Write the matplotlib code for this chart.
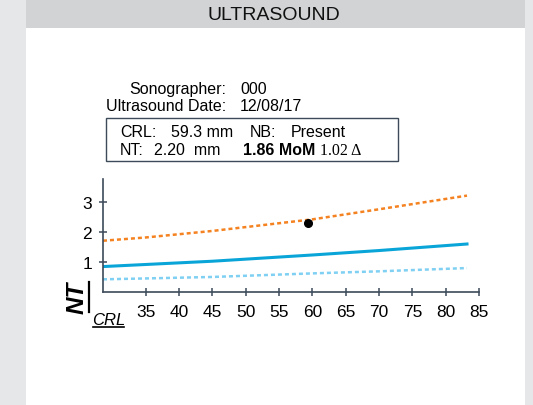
import numpy as np
import matplotlib
matplotlib.use("Agg")
import matplotlib.pyplot as plt
from matplotlib.patches import Rectangle
from matplotlib.lines import Line2D

W, H = 533, 406

# data
crl = [28.6, 35, 45, 60, 70, 83.2]
nt_p95 = [1.71, 1.82, 2.04, 2.43, 2.77, 3.23]
nt_p50 = [0.84, 0.91, 1.02, 1.23, 1.38, 1.60]
nt_p05 = [0.41, 0.44, 0.49, 0.61, 0.68, 0.79]
patient_crl = 59.3
patient_nt = 2.3
x_ticks = [35, 40, 45, 50, 55, 60, 65, 70, 75, 80, 85]
y_ticks = [1, 2, 3]

axis_col = "#3d4a5a"
orange = "#f58220"
blue = "#0aa5d8"
light_blue = "#7fd0f2"

plt.rcParams["font.family"] = ["Liberation Sans", "DejaVu Sans"]


def fx(x):
    return x / W


def fy(y):
    return 1 - y / H


fig = plt.figure(figsize=(W / 100, H / 100), dpi=100)
fig.patch.set_facecolor("#e6e7e8")

# white panel + grey header
fig.patches.append(Rectangle((fx(26), 0), fx(525) - fx(26), 1, transform=fig.transFigure,
                             facecolor="white", edgecolor="none", zorder=-2))
fig.patches.append(Rectangle((fx(26), fy(29)), fx(525) - fx(26), 29 / H, transform=fig.transFigure,
                             facecolor="#d1d3d4", edgecolor="none", zorder=-1))
fig.text(fx(274), fy(15), "ULTRASOUND", ha="center", va="center", fontsize=14, color="#111111")

# header info
fs = 11.5
fig.text(fx(226), fy(94), "Sonographer:", ha="right", va="baseline", fontsize=fs)
fig.text(fx(240), fy(94), "000", ha="left", va="baseline", fontsize=fs)
fig.text(fx(226), fy(111), "Ultrasound Date:", ha="right", va="baseline", fontsize=fs)
fig.text(fx(240), fy(111), "12/08/17", ha="left", va="baseline", fontsize=fs)

fig.patches.append(Rectangle((fx(106), fy(162)), fx(398) - fx(106), (162 - 119) / H,
                             transform=fig.transFigure, facecolor="none",
                             edgecolor=axis_col, lw=1.0, zorder=2))
fig.text(fx(120), fy(137), "CRL:", va="baseline", fontsize=fs)
fig.text(fx(171), fy(137), "59.3 mm", va="baseline", fontsize=fs)
fig.text(fx(250), fy(137), "NB:", va="baseline", fontsize=fs)
fig.text(fx(291), fy(137), "Present", va="baseline", fontsize=fs)
fig.text(fx(120), fy(155), "NT:", va="baseline", fontsize=fs)
fig.text(fx(154), fy(155), "2.20  mm", va="baseline", fontsize=fs)
fig.text(fx(243), fy(155), "1.86 MoM", va="baseline", fontsize=fs, fontweight="bold")
fig.text(fx(320), fy(155), "1.02 \u0394", va="baseline", fontsize=fs, family="Liberation Serif")

# chart
ax = fig.add_axes([fx(103), fy(292.5), fx(479) - fx(103), (292.5 - 180) / H])
ax.set_facecolor("none")
ax.plot(crl, nt_p95, color=orange, lw=1.8, ls=(0, (1.6, 1.2)))
ax.plot(crl, nt_p50, color=blue, lw=2.2)
ax.plot(crl, nt_p05, color=light_blue, lw=1.8, ls=(0, (1.6, 1.2)))
ax.plot([patient_crl], [patient_nt], "o", color="black", ms=5.5)

ax.set_xlim(28.6, 85)
ax.set_ylim(0, 3.79)
ax.set_xticks(x_ticks)
ax.set_yticks(y_ticks)
for s in ["top", "right"]:
    ax.spines[s].set_visible(False)
for s in ["left", "bottom"]:
    ax.spines[s].set_color(axis_col)
    ax.spines[s].set_linewidth(1.2)
ax.tick_params(direction="inout", length=6, width=1.1, color=axis_col, labelsize=12.5)
ax.tick_params(axis="x", pad=6)
ax.tick_params(axis="y", pad=5)

# NT / CRL label
fig.text(fx(77.5), fy(297.5), "NT", rotation=90, ha="center", va="center",
         fontsize=17.5, fontweight="bold", fontstyle="italic")
fig.add_artist(Line2D([fx(89.3), fx(89.3)], [fy(282.5), fy(313)], color="black", lw=1.6,
                      transform=fig.transFigure))
fig.text(fx(108.5), fy(321), "CRL", ha="center", va="center", fontsize=12, fontstyle="italic")
fig.add_artist(Line2D([fx(92.5), fx(123.5)], [fy(327.7), fy(327.7)], color="black", lw=1.2,
                      transform=fig.transFigure))

fig.savefig("out.png", dpi=100)
